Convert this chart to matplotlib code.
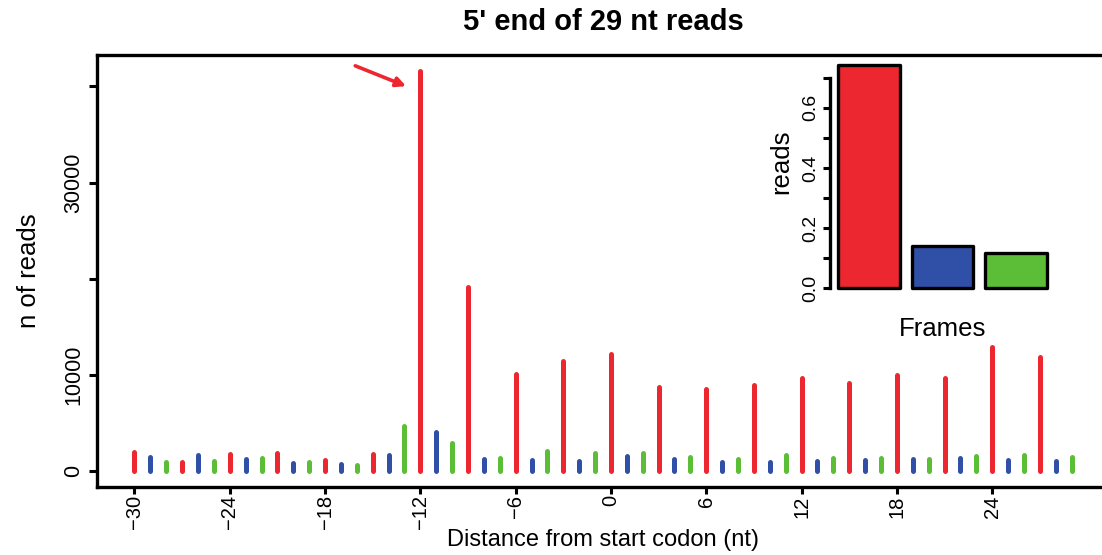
import matplotlib
matplotlib.use("Agg")
import matplotlib.pyplot as plt
import numpy as np

plt.rcParams['font.family'] = ['Liberation Sans', 'DejaVu Sans']

# ---- data ----
positions = list(range(-30, 30))
reads = [1950, 1430, 900, 900, 1670, 1000, 1810, 1290, 1320, 1920,
         875, 980, 1190, 730, 600, 1770, 1710, 4660, 41600, 4100,
         2890, 19140, 1300, 1400, 10100, 1190, 2130, 11400, 1040, 1840,
         12160, 1600, 1840, 8690, 1290, 1460, 8480, 940, 1290, 8960,
         980, 1710, 9660, 1010, 1400, 9140, 1150, 1400, 9970, 1220,
         1250, 9690, 1320, 1530, 12860, 1190, 1670, 11880, 1010, 1430]
frame_colors = ["#EC2730", "#3050A8", "#5BBE36"]
frame_names = ["0", "1", "2"]
frame_fraction = [0.742, 0.140, 0.118]
xtick_vals = list(range(-30, 25, 6))
ytick_vals = [0, 10000, 20000, 30000, 40000]
ytick_labels = ["0", "10000", "", "30000", ""]

colors = [frame_colors[p % 3] for p in positions]

fig = plt.figure(figsize=(11.02, 5.55), dpi=100)
ax = fig.add_axes([0.0880, 0.1225, 1.0064 - 0.0880, 0.9009 - 0.1225])

lc = ax.vlines(positions, 0, reads, colors=colors, linewidth=3.6)
lc.set_capstyle('round')

rng = max(positions) - min(positions)
ax.set_xlim(min(positions) - 0.04 * rng, max(positions) + 0.04 * rng)
ymax = max(reads)
ax.set_ylim(-0.04 * ymax, ymax * 1.04)

ax.set_xticks(xtick_vals)
ax.set_xticklabels([str(v).replace('-', '\u2212') for v in xtick_vals],
                   rotation=90, fontsize=14.5)
ax.set_yticks(ytick_vals)
ax.set_yticklabels(ytick_labels, rotation=90, va='center', fontsize=15.5)
ax.tick_params(axis='both', length=6, width=2.2, color='black')
ax.tick_params(axis='x', length=5, pad=1)
ax.tick_params(axis='y', pad=3)
for s in ax.spines.values():
    s.set_linewidth(2.4)

ax.set_xlabel("Distance from start codon (nt)", fontsize=17, labelpad=0)
ax.set_ylabel("n of reads", fontsize=18.5, labelpad=16)
ax.set_title("5' end of 29 nt reads", fontsize=21, fontweight='bold', pad=18,
             x=0.5)

# arrow to the peak
ipk = int(np.argmax(reads))
px, py = positions[ipk], reads[ipk]
ax.annotate("", xy=(px - 0.9, py * 0.962), xytext=(px - 4.1, py * 1.013),
            arrowprops=dict(arrowstyle='-|>', color=frame_colors[0], lw=2.6,
                            mutation_scale=14, shrinkA=0, shrinkB=0))

# ---- inset ----
axi = fig.add_axes([0.7532, 0.4643, 0.9572 - 0.7532, 0.8989 - 0.4643])
bx = [0.7 + 1.2 * i for i in range(3)]
axi.bar(bx, frame_fraction, width=1.0, color=frame_colors, edgecolor='black',
        linewidth=2.4, joinstyle='round')
axi.set_xlim(0.2 - 0.04 * 3.4, 3.6 + 0.04 * 3.4)
fmax = max(frame_fraction)
axi.set_ylim(-0.04 * fmax, fmax * 1.04)
for s in ['top', 'right', 'bottom']:
    axi.spines[s].set_visible(False)
axi.spines['left'].set_bounds(0, 0.7)
axi.spines['left'].set_linewidth(2.4)
axi.set_xticks([])
axi.set_yticks(np.round(np.arange(0, 0.71, 0.1), 1))
axi.set_yticklabels(["0.0", "", "0.2", "", "0.4", "", "0.6", ""],
                    rotation=90, va='center', fontsize=14)
axi.tick_params(axis='y', length=5, width=2.2, pad=3)
axi.set_ylabel("reads", fontsize=18.5, labelpad=6, y=0.56)
axi.set_xlabel("Frames", fontsize=18.5, labelpad=14)
axi.patch.set_alpha(0)

fig.savefig("out.png", dpi=100)
